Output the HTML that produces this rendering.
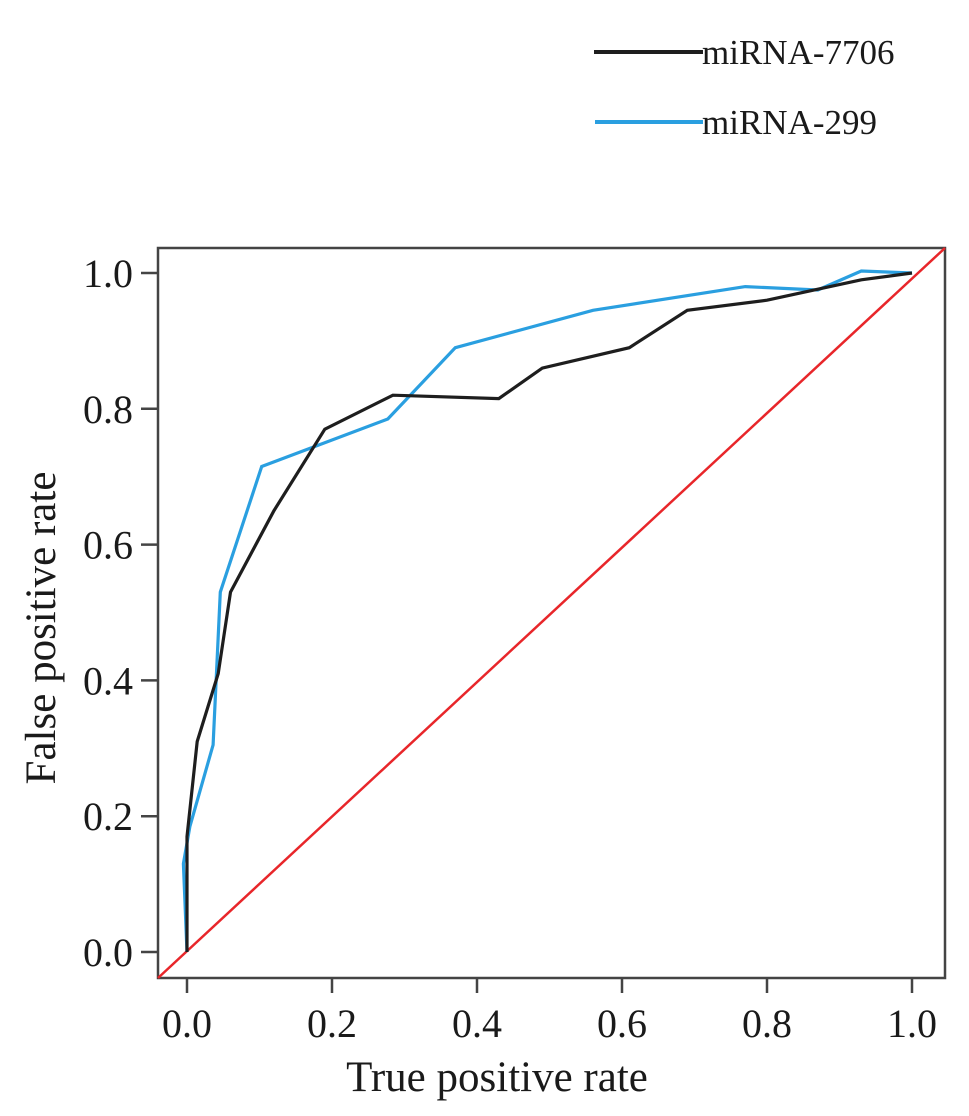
<!DOCTYPE html>
<html><head><meta charset="utf-8"><style>
html,body{margin:0;padding:0;background:#fff;}
svg{display:block;font-family:"Liberation Serif",serif;}
</style></head><body>
<svg id="chart" width="969" height="1116" viewBox="0 0 969 1116">
<g id="legend">
 <g>
  <line x1="594" y1="52" x2="703" y2="52" stroke="#1e1e1e" stroke-width="4"/>
  <text x="702" y="64" font-size="35" fill="#1a1a1a">miRNA-7706</text>
 </g>
 <g>
  <line x1="595" y1="122" x2="703" y2="122" stroke="#2a9fe0" stroke-width="4"/>
  <text x="702" y="134" font-size="35" fill="#1a1a1a">miRNA-299</text>
 </g>
</g>
<g id="plot"></g>
<text transform="translate(55,628) rotate(-90)" text-anchor="middle" font-size="43" fill="#1a1a1a">False positive rate</text>
<text x="497" y="1091" text-anchor="middle" font-size="43" fill="#1a1a1a">True positive rate</text>
</svg>
<script>
const xTicks = [0, 0.2, 0.4, 0.6, 0.8, 1.0];
const yTicks = [0, 0.2, 0.4, 0.6, 0.8, 1.0];
const tickLabels = ["0.0", "0.2", "0.4", "0.6", "0.8", "1.0"];
const mir7706X = [0, 0.0, 0.014, 0.043, 0.06, 0.12, 0.19, 0.284, 0.43, 0.49, 0.61, 0.69, 0.80, 0.93, 1.0];
const mir7706Y = [0, 0.17, 0.31, 0.41, 0.53, 0.65, 0.77, 0.82, 0.815, 0.86, 0.89, 0.945, 0.96, 0.99, 1.0];
const mir299X = [0, -0.005, 0.004, 0.036, 0.046, 0.103, 0.277, 0.37, 0.56, 0.77, 0.87, 0.93, 1.0];
const mir299Y = [0, 0.13, 0.185, 0.305, 0.53, 0.715, 0.785, 0.89, 0.945, 0.98, 0.975, 1.003, 1.0];

const NS = "http://www.w3.org/2000/svg";
const fL = 158, fR = 945, fT = 248, fB = 978;
const sx = v => 187 + v * 725;
const sy = v => 952 - v * 679;
const plot = document.getElementById('plot');
function mk(tag, attrs, parent) {
  const e = document.createElementNS(NS, tag);
  for (const k in attrs) e.setAttribute(k, attrs[k]);
  parent.appendChild(e);
  return e;
}
const frame = mk('rect', {x: fL, y: fT, width: fR - fL, height: fB - fT, fill: 'none', stroke: '#444', 'stroke-width': 2.5}, plot);



xTicks.forEach((t, i) => {
  const l = mk('line', {x1: sx(t), x2: sx(t), y1: fB, y2: fB + 15, stroke: '#444', 'stroke-width': 2.5}, plot);
  
  
  const tx = mk('text', {x: sx(t), y: 1037, 'text-anchor': 'middle', 'font-size': 40, fill: '#1a1a1a'}, plot);
  tx.textContent = tickLabels[i];
  
  
});
yTicks.forEach((t, i) => {
  const l = mk('line', {x1: fL - 17, x2: fL, y1: sy(t), y2: sy(t), stroke: '#444', 'stroke-width': 2.5}, plot);
  
  
  const tx = mk('text', {x: 133, y: sy(t) + 14, 'text-anchor': 'end', 'font-size': 40, fill: '#1a1a1a'}, plot);
  tx.textContent = tickLabels[i];
  
  
});

const ref = mk('line', {x1: fL, y1: fB, x2: fR, y2: fT, stroke: '#e8262a', 'stroke-width': 2.5}, plot);



function series(xs, ys, color, name) {
  const pts = xs.map((x, i) => sx(x).toFixed(1) + ',' + sy(ys[i]).toFixed(1)).join(' ');
  const p = mk('polyline', {points: pts, fill: 'none', stroke: color, 'stroke-width': 3.2, 'stroke-linejoin': 'miter'}, plot);
  
  
}
series(mir299X, mir299Y, '#2a9fe0', 'mirna-299-line');
series(mir7706X, mir7706Y, '#1e1e1e', 'mirna-7706-line');
</script>
</body></html>
